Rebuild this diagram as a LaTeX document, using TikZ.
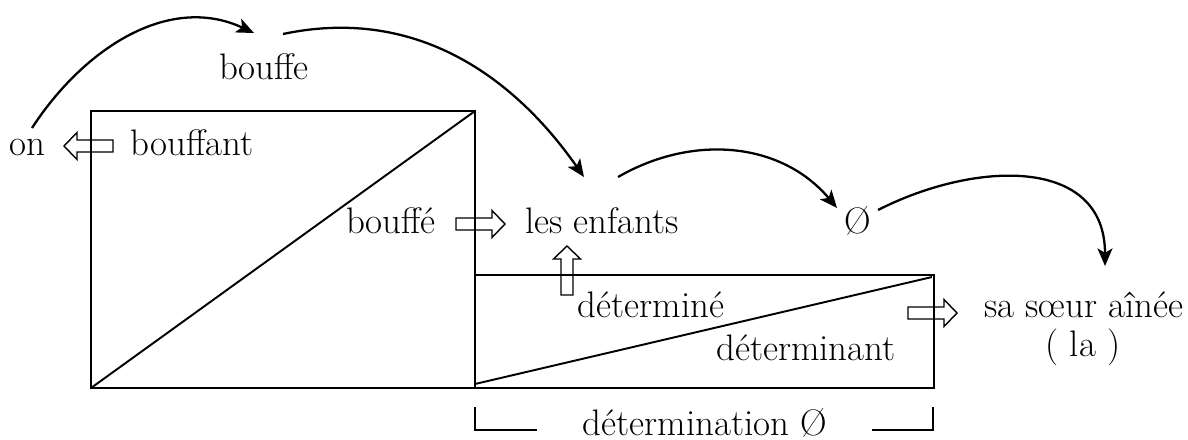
\documentclass[tikz,border=0pt]{standalone}
\usepackage{tikz}
\usetikzlibrary{arrows.meta}

\tikzset{
  box/.style={line width=1.1pt},
  bendarrow/.style={line width=1.3pt, -{Stealth[length=10pt,width=8.5pt,inset=2.5pt]}},
  word/.style={inner sep=0pt, anchor=base, font=\fontsize{21}{25}\selectfont},
  hollow/.pic={\draw[line width=0.8pt, line join=miter]
    (0,-6) -- (36,-6) -- (36,-13.5) -- (49,0) -- (36,13.5) -- (36,6) -- (0,6) -- cycle;}
}

\begin{document}
\begin{tikzpicture}[x=0.02cm, y=-0.02cm]
  \useasboundingbox (0,0) rectangle (1188,440);

  % the two boxes
  \draw[box] (91,111) rectangle (475,388);
  \draw[box] (91,388) -- (475,111);
  \draw[box] (475,275) rectangle (934,388);
  \draw[box] (475,384) -- (932,277);

  % bracket under the small box
  \draw[box] (475,407) |- (537,430);
  \draw[box] (872,430) -| (933,407);

  % words
  \node[word] (on) at (27,155) {on};
  \node[word] (bouffant) at (192,155) {bouffant};
  \node[word] (bouffe) at (264,79) {bouffe};
  \node[word] (bouffed) at (391,233) {bouffé};
  \node[word] (enfants) at (602,233) {les enfants};
  \node[word] (zero) at (858,233) {Ø};
  \node[word] (determine) at (651,317) {déterminé};
  \node[word] (determinant) at (806,360) {déterminant};
  \node[word] (soeur) at (1084,317) {sa sœur aînée};
  \node[word] (la) at (1083,356) {( la )};
  \node[word] (determination) at (705,435) {détermination Ø};

  % hollow arrows
  \pic[rotate=180] at (113,146) {hollow};
  \pic at (456,224) {hollow};
  \pic[rotate=90] at (567,295) {hollow};
  \pic at (908,313) {hollow};

  % curved arrows
  \coordinate (c1a) at (32,128);  \coordinate (c1b) at (254,33);
  \coordinate (c2a) at (283,34);  \coordinate (c2b) at (584,177);
  \coordinate (c3a) at (618,177); \coordinate (c3b) at (837,208);
  \coordinate (c4a) at (878,210); \coordinate (c4b) at (1105,266);
  \draw[bendarrow] (c1a) to[out=57,in=155] (c1b);
  \draw[bendarrow] (c2a) to[out=12,in=125] (c2b);
  \draw[bendarrow] (c3a) to[out=30,in=130] (c3b);
  \draw[bendarrow] (c4a) to[out=27,in=90,looseness=1.2] (c4b);
\end{tikzpicture}
\end{document}
